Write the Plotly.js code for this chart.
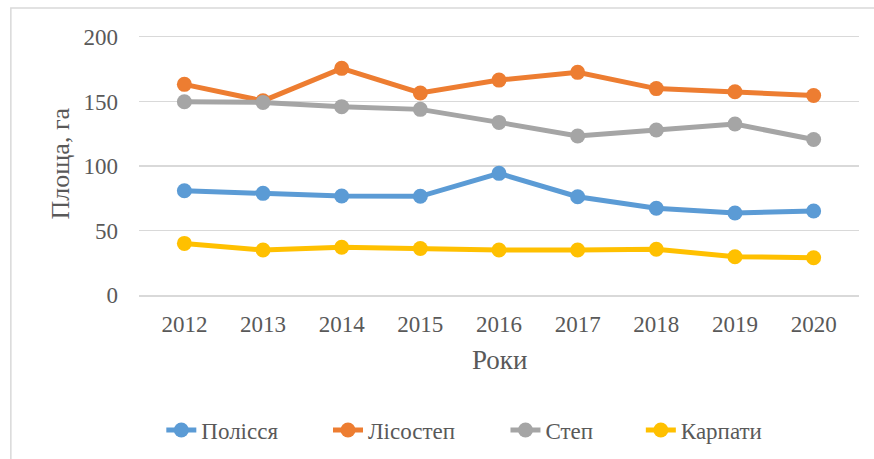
<!DOCTYPE html>
<html>
<head>
<meta charset="utf-8">
<script src="https://cdn.plot.ly/plotly-3.0.1.min.js"></script>
<style>
html,body{margin:0;padding:0;background:#fff;}
#chart{width:874px;height:459px;}
</style>
</head>
<body>
<div id="chart"></div>
<script>
const years = ['2012','2013','2014','2015','2016','2017','2018','2019','2020'];
const polissia = [80.8, 78.8, 76.7, 76.5, 94.3, 76.2, 67.2, 63.6, 65.1];
const lisostep = [163.3, 150.5, 175.7, 156.6, 166.6, 172.6, 160.0, 157.6, 154.6];
const step = [149.8, 149.3, 146.0, 143.9, 133.8, 123.2, 127.9, 132.5, 120.6];
const karpaty = [40.0, 34.9, 37.0, 36.0, 34.9, 34.9, 35.5, 29.7, 28.9];
const seriesNames = ['Полісся', 'Лісостеп', 'Степ', 'Карпати'];
const yTicks = [0, 50, 100, 150, 200];
const xTitle = 'Роки';
const yTitle = 'Площа, га';

const colors = ['#5B9BD5', '#ED7D31', '#A5A5A5', '#FFC000'];
const allValues = [polissia, lisostep, step, karpaty];
const legendIds = ['legend', 'legend2', 'legend3', 'legend4'];
const legendX = [0.031, 0.2625, 0.509, 0.697];

const traces = allValues.map((vals, i) => ({
  type: 'scatter',
  mode: 'lines+markers',
  x: years,
  y: vals,
  name: seriesNames[i],
  legend: legendIds[i],
  line: {color: colors[i], width: 5},
  marker: {color: colors[i], size: 15},
  cliponaxis: false
}));

const FAM = 'Liberation Serif';
const fnt = (s) => ({family: FAM, size: s, color: '#595959'});

const layout = {
  width: 874,
  height: 459,
  margin: {l: 139, r: 15, t: 37, b: 164},
  paper_bgcolor: '#fff',
  plot_bgcolor: '#fff',
  showlegend: true,
  font: fnt(23),
  xaxis: {
    type: 'category',
    showgrid: false,
    zeroline: false,
    showline: true,
    mirror: true,
    linecolor: '#D9D9D9',
    linewidth: 1.5,
    ticks: '',
    ticklabelstandoff: 8,
    tickfont: fnt(23),
    automargin: false
  },
  yaxis: {
    range: [0, 200],
    tickvals: yTicks,
    ticktext: yTicks.map(String),
    showgrid: true,
    gridcolor: '#D9D9D9',
    gridwidth: 1.5,
    zeroline: false,
    showline: false,
    ticks: '',
    ticklen: 0,
    ticklabelstandoff: 20,
    tickfont: fnt(23),
    automargin: false
  },
  annotations: [
    {text: xTitle, xref: 'paper', yref: 'paper', x: 0.5, y: -0.252,
     xanchor: 'center', yanchor: 'middle', showarrow: false, font: fnt(27)},
    {text: yTitle, xref: 'paper', yref: 'paper', x: -0.1097, y: 0.51,
     xanchor: 'center', yanchor: 'middle', textangle: -90, showarrow: false, font: fnt(26)}
  ],
  shapes: [{
    type: 'rect',
    xref: 'paper', yref: 'paper',
    x0: -0.178, x1: 1.05, y0: -0.7, y1: 1.112,
    line: {color: '#D9D9D9', width: 1.5},
    fillcolor: 'rgba(0,0,0,0)',
    layer: 'below'
  }]
};

legendIds.forEach((id, i) => {
  layout[id] = {
    orientation: 'h',
    x: legendX[i],
    xanchor: 'left',
    yref: 'container',
    y: 0.063,
    yanchor: 'middle',
    font: fnt(23),
    bgcolor: 'rgba(0,0,0,0)',
    borderwidth: 0
  };
});

Plotly.newPlot('chart', traces, layout, {displayModeBar: false, staticPlot: true});
</script>
</body>
</html>
